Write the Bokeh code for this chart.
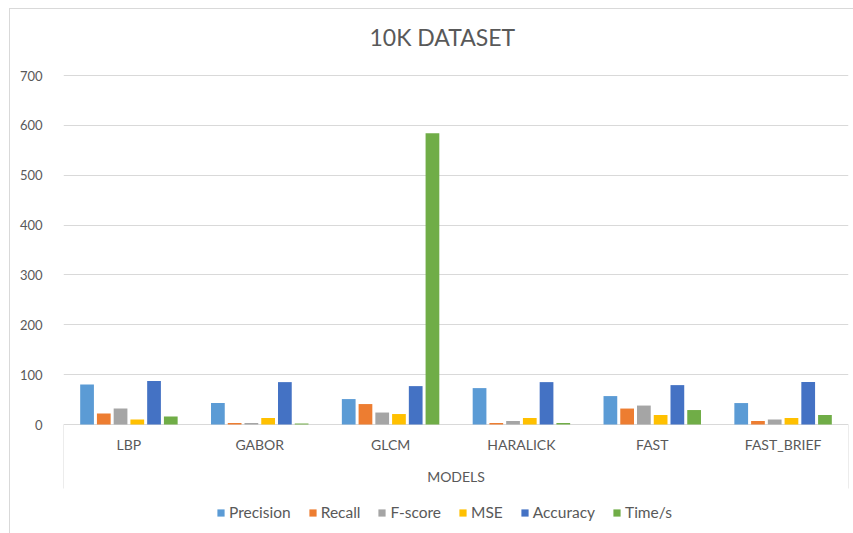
from bokeh.plotting import figure
from bokeh.models import (ColumnDataSource, Range1d, FactorRange, FixedTicker, Legend,
                          LegendItem, Title, Label)
from bokeh.core.properties import value
from bokeh.transform import dodge
from bokeh.embed import file_html
from bokeh.resources import INLINE

categories = ["LBP", "GABOR", "GLCM", "HARALICK", "FAST", "FAST_BRIEF"]
series_names = ["Precision", "Recall", "F-score", "MSE", "Accuracy", "Time/s"]
precision = [80, 43, 51, 73, 57, 43]
recall = [22, 3, 41, 3, 32, 7]
fscore = [32, 3, 24, 7, 38, 10]
mse = [10, 13, 21, 13, 19, 13]
accuracy = [87, 85, 77, 85, 79, 85]
time_s = [16, 2, 584, 3, 29, 19]
y_ticks = [0, 100, 200, 300, 400, 500, 600, 700]
x_title = "MODELS"

colors = ["#5B9BD5", "#ED7D31", "#A5A5A5", "#FFC000", "#4472C4", "#70AD47"]
FONT = "Lato"
TXT = "#595959"
GRID = "#D9D9D9"

series = [precision, recall, fscore, mse, accuracy, time_s]
keys = ["s%d" % i for i in range(len(series))]
data = {"cats": categories}
for k, s in zip(keys, series):
    data[k] = s
src = ColumnDataSource(data)

n = len(categories)
px_per_unit = 349 / 700.0          # plot-area scale (px per value unit)
box_depth = 64 / px_per_unit        # depth of the category box below the baseline
frame_below = 109 / px_per_unit     # frame continues down to the bottom of the chart
frame_above = 25 / px_per_unit      # empty room above the top gridline

p = figure(x_range=FactorRange(*categories, range_padding=0),
           y_range=Range1d(-frame_below, y_ticks[-1] + frame_above), x_axis_type=None,
           frame_width=785, frame_height=483, output_backend="svg", toolbar_location=None,
           min_border_left=53, min_border_right=6, min_border_top=41, min_border_bottom=0)
p.styles = {"margin-left": "9px", "margin-top": "8px",
            "border-left": "1px solid #D9D9D9", "border-top": "1px solid #D9D9D9"}
p.outline_line_color = None
p.background_fill_color = "white"
p.border_fill_color = "white"

title = Title(text="10K DATASET", align="left", text_font=FONT, text_font_size="23px",
              text_font_style="normal", text_color=TXT, offset=306, standoff=0)
p.add_layout(title, "above")

step = 0.128
bw = 0.105
renderers = []
for i, k in enumerate(keys):
    off = (i - (len(keys) - 1) / 2.0) * step
    r = p.vbar(x=dodge("cats", off, range=p.x_range), top=k, bottom=0, width=bw,
               source=src, fill_color=colors[i], line_color=None)
    renderers.append(r)

# category box: side lines below the baseline
p.segment(x0=[0, n], x1=[0, n], y0=[0, 0], y1=[-box_depth, -box_depth],
          line_color=GRID, line_width=1)

# category labels inside the box
p.text(x="cats", y=-20 / px_per_unit, text="cats", source=src,
       text_font=value(FONT), text_font_size="14px", text_color=TXT,
       text_align="center", text_baseline="middle")
p.add_layout(Label(x=n / 2.0, y=-52 / px_per_unit, text=x_title,
                   text_font=FONT, text_font_size="14px", text_color=TXT,
                   text_align="center", text_baseline="middle"))

p.xgrid.grid_line_color = None
p.ygrid.ticker = FixedTicker(ticks=y_ticks)
p.ygrid.grid_line_color = GRID
p.ygrid.grid_line_width = 1

p.yaxis.ticker = FixedTicker(ticks=y_ticks)
p.yaxis.axis_line_color = None
p.yaxis.major_tick_line_color = None
p.yaxis.minor_tick_line_color = None
p.yaxis.major_label_text_font = FONT
p.yaxis.major_label_text_font_size = "13px"
p.yaxis.major_label_text_color = TXT
p.yaxis.major_label_standoff = 15

legend = Legend(items=[LegendItem(label=nm, renderers=[r]) for nm, r in zip(series_names, renderers)],
                orientation="horizontal", location=(153, 11),
                glyph_width=9, glyph_height=9, label_standoff=4, spacing=17,
                label_text_font=FONT, label_text_font_size="15.5px", label_text_color=TXT,
                label_height=20, border_line_color=None, background_fill_alpha=0,
                padding=0, margin=0)
p.add_layout(legend, "center")

open("out.html", "w").write(file_html(p, INLINE))
